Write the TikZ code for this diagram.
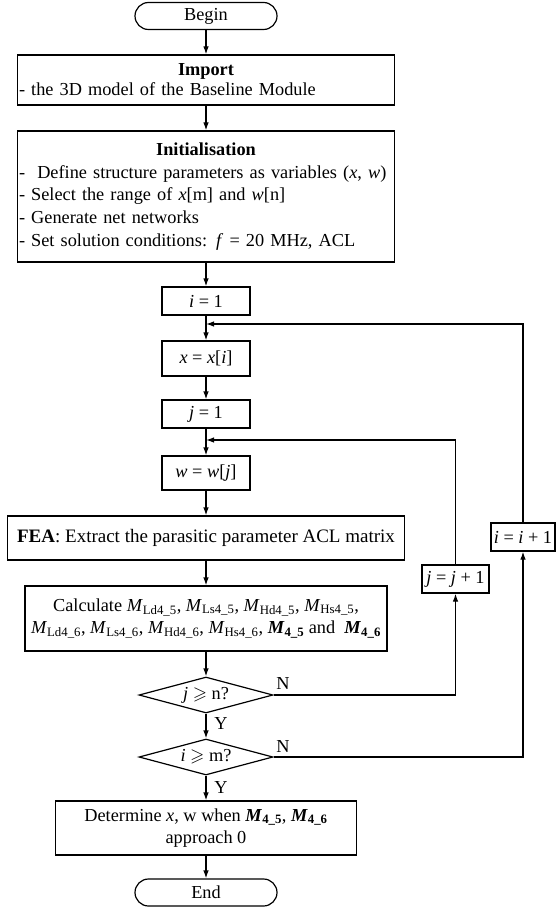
\documentclass[tikz,border=0pt]{standalone}
\usepackage{fontspec}
\usepackage{amssymb}
\setmainfont{Liberation Serif}
\usetikzlibrary{shapes.geometric,arrows.meta}

\newcommand{\Msub}[1]{\textit{M}\textsubscript{#1}}
\newcommand{\Mbf}[1]{\textbf{\textit{M}\textsubscript{#1}}}

\begin{document}
\begin{tikzpicture}[x=1pt,y=-1pt,
        font=\fontsize{18.3}{22.7}\selectfont,
        line width=1.2pt,
        >={Latex[length=8pt,width=5.5pt]},
        block/.style={draw,rectangle,inner sep=1pt},
        terminal/.style={draw,rectangle,rounded corners=13.5pt,minimum width=142pt,minimum height=27pt,inner sep=0pt},
        decision/.style={draw,diamond,aspect=3.7,minimum width=134pt,minimum height=36pt,inner sep=0pt},
        tag/.style={inner sep=0pt}
    ]
        \useasboundingbox (0,0) rectangle (556,909);

        \node[terminal] (begin) at (206,16) {Begin};
        \node[block,minimum width=377pt,minimum height=50pt,text width=374pt,align=left] (import) at (206,80)
            {\makebox[\linewidth]{\textbf{Import}}\\[-2.7pt]- the 3D model of the Baseline Module};
        \node[block,minimum width=377pt,minimum height=131pt,text width=374pt,align=left] (init) at (206,196.5)
            {\makebox[\linewidth]{\textbf{Initialisation}}\\
            - \ Define structure parameters as variables (\textit{x}, \textit{w})\\
            - Select the range of \textit{x}[m] and \textit{w}[n]\\
            - Generate net networks\\
            - Set solution conditions: \textit{f} = 20 MHz, ACL};
        \node[block,minimum width=88pt,minimum height=28pt] (ione) at (206,301) {\textit{i} = 1};
        \node[block,minimum width=88pt,minimum height=35pt] (xset) at (206,358.5) {\textit{x} = \textit{x}[\textit{i}]};
        \node[block,minimum width=88pt,minimum height=28pt] (jone) at (206,414) {\textit{j} = 1};
        \node[block,minimum width=88pt,minimum height=34pt] (wset) at (206,473) {\textit{w} = \textit{w}[\textit{j}]};
        \node[block,minimum width=397pt,minimum height=44pt,font=\fontsize{19}{22.7}\selectfont] (fea) at (206,538)
            {\textbf{FEA}: Extract the parasitic parameter ACL matrix};
        \node[block,minimum width=362pt,minimum height=65pt,align=center] (calc) at (206,618.5)
            {Calculate \Msub{Ld4\_5}, \Msub{Ls4\_5}, \Msub{Hd4\_5}, \Msub{Hs4\_5},\\
            \Msub{Ld4\_6}, \Msub{Ls4\_6}, \Msub{Hd4\_6}, \Msub{Hs4\_6}, \Mbf{4\_5} and \ \Mbf{4\_6}};
        \node[decision] (jcheck) at (206,695) {\textit{j} $\geqslant$ n?};
        \node[decision] (icheck) at (206,757) {\textit{i} $\geqslant$ m?};
        \node[block,minimum width=301pt,minimum height=54pt,align=center] (result) at (206,828)
            {Determine \textit{x}, w when \Mbf{4\_5}, \Mbf{4\_6}\\approach 0};
        \node[terminal] (stop) at (206,892.5) {End};

        \node[block,minimum width=67pt,minimum height=28pt] (jinc) at (455.5,579) {\textit{j} = \textit{j} + 1};
        \node[block,minimum width=64pt,minimum height=28pt] (iinc) at (523,537) {\textit{i} = \textit{i} + 1};

        \coordinate (jback) at (206,440);
        \coordinate (iback) at (206,324);

        \node[tag] (jno) at (283,684) {N};
        \node[tag] (ino) at (283,746) {N};
        \node[tag] (jyes) at (221,724) {Y};
        \node[tag] (iyes) at (221,787) {Y};

        \draw[->] (begin) -- (import);
        \draw[->] (import) -- (init);
        \draw[->] (init) -- (ione);
        \draw[->] (ione) -- (xset);
        \draw[->] (xset) -- (jone);
        \draw[->] (jone) -- (wset);
        \draw[->] (wset) -- (fea);
        \draw[->] (fea) -- (calc);
        \draw[->] (calc) -- (jcheck);
        \draw[->] (jcheck) -- (icheck);
        \draw[->] (icheck) -- (result);
        \draw[->] (result) -- (stop);

        \draw[->] (jcheck.east) -| (jinc);
        \draw[->] (jinc) |- (jback);
        \draw[->] (icheck.east) -| (iinc);
        \draw[->] (iinc) |- (iback);

    \end{tikzpicture}
\end{document}
